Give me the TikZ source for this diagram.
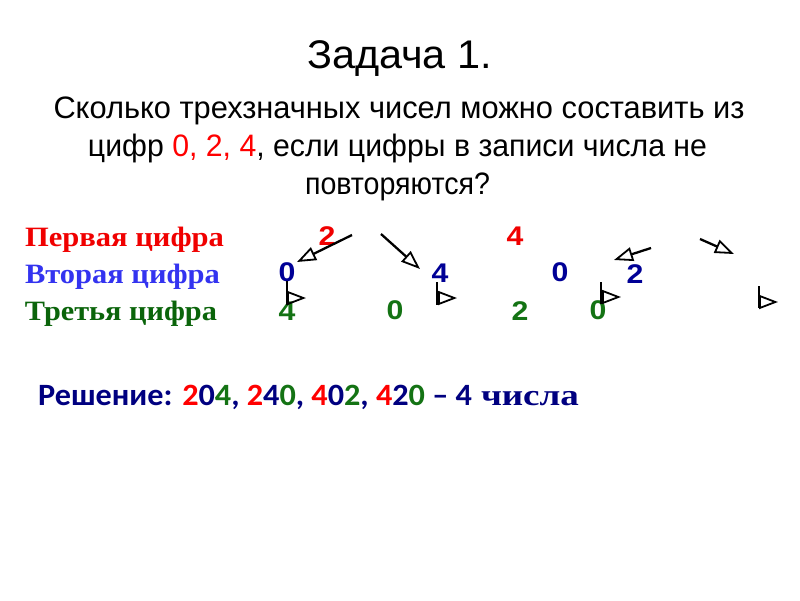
\documentclass[tikz,border=0pt]{standalone}
\usepackage{fontspec}
\setmainfont{Liberation Sans}
\newfontfamily\lserif{Liberation Serif}
\newfontfamily\carl{Carlito}
\usetikzlibrary{arrows.meta}
\definecolor{lblred}{RGB}{240,0,0}
\definecolor{lblblue}{RGB}{51,51,240}
\definecolor{lblgreen}{RGB}{10,100,10}
\definecolor{dignavy}{RGB}{0,0,150}
\definecolor{diggreen}{RGB}{20,115,20}
\definecolor{solnavy}{RGB}{0,0,128}
\tikzset{
  arr/.style={line width=2.3pt, -{Triangle[open, length=19pt, width=14pt, line width=1.8pt]}},
  stem/.style={line width=2.3pt},
  lbl/.style={anchor=base west, font=\lserif\bfseries\fontsize{28}{32}\selectfont},
  dig/.style={anchor=base, font=\bfseries\fontsize{27}{32}\selectfont},
  txt/.style={anchor=base, font=\fontsize{31}{38}\selectfont}
}
\newcommand{\digw}[1]{\scalebox{1.12}[1]{#1}}
\begin{document}
\begin{tikzpicture}[x=1pt,y=-1pt, every node/.style={inner sep=0pt, outer sep=0pt}]
\fill[white] (0,0) rectangle (800,600);
\useasboundingbox (0,0) rectangle (800,600);
% title and question
\node[anchor=base, font=\fontsize{40}{48}\selectfont] (title) at (399.5,68) {\resizebox{185pt}{\height}{Задача 1.}};
\node[txt] (q1) at (399,118) {\resizebox{691pt}{\height}{Сколько трехзначных чисел можно составить из}};
\node[txt] (q2) at (397.5,156) {\resizebox{619pt}{\height}{цифр \textcolor{red}{0, 2, 4}, если цифры в записи числа не}};
\node[txt] (q3) at (397.5,194) {\resizebox{185pt}{\height}{повторяются?}};
% row labels
\node[lbl, text=lblred] (l1) at (25,246) {\resizebox{199pt}{\height}{Первая цифра}};
\node[lbl, text=lblblue] (l2) at (25,283) {\resizebox{195pt}{\height}{Вторая цифра}};
\node[lbl, text=lblgreen] (l3) at (25,320) {\resizebox{192pt}{\height}{Третья цифра}};
% digits
\node[dig, text=lblred] (d12) at (327,245) {\digw{2}};
\node[dig, text=lblred] (d14) at (515,245) {\digw{4}};
\node[dig, text=dignavy] (d20a) at (287,281) {\digw{0}};
\node[dig, text=dignavy] (d24) at (440,282) {\digw{4}};
\node[dig, text=dignavy] (d20b) at (560,281) {\digw{0}};
\node[dig, text=dignavy] (d22) at (635,283) {\digw{2}};
\node[dig, text=diggreen] (d34) at (287,320) {\digw{4}};
\node[dig, text=diggreen] (d30a) at (395,319) {\digw{0}};
\node[dig, text=diggreen] (d32) at (520,320) {\digw{2}};
\node[dig, text=diggreen] (d30b) at (598,319) {\digw{0}};
% arrow points
\coordinate (a1s) at (352,235); \coordinate (a1e) at (297,262);
\coordinate (a2s) at (381,234); \coordinate (a2e) at (420,269);
\coordinate (a3t) at (287,281); \coordinate (a3b) at (287,305); \coordinate (a3m) at (287,298); \coordinate (a3e) at (306,298);
\coordinate (a4t) at (437,282); \coordinate (a4b) at (437,305); \coordinate (a4m) at (437,298); \coordinate (a4e) at (457,298);
\coordinate (a5s) at (651,248); \coordinate (a5e) at (614,260);
\coordinate (a6s) at (700,239); \coordinate (a6e) at (734,254);
\coordinate (a7t) at (601,282); \coordinate (a7b) at (601,304); \coordinate (a7m) at (601,297); \coordinate (a7e) at (621,297);
\coordinate (a8t) at (759,286); \coordinate (a8b) at (759,308); \coordinate (a8m) at (759,302); \coordinate (a8e) at (778,302);
\draw[arr] (a1s) -- (a1e);
\draw[arr] (a2s) -- (a2e);
\draw[stem] (a3t) -- (a3b); \draw[arr] (a3m) -- (a3e);
\draw[stem] (a4t) -- (a4b); \draw[arr] (a4m) -- (a4e);
\draw[arr] (a5s) -- (a5e);
\draw[arr] (a6s) -- (a6e);
\draw[stem] (a7t) -- (a7b); \draw[arr] (a7m) -- (a7e);
\draw[stem] (a8t) -- (a8b); \draw[arr] (a8m) -- (a8e);
% solution
\node[anchor=base west, text=solnavy, font=\carl\bfseries\fontsize{31}{36}\selectfont] (sol) at (38,405)
 {\resizebox{434pt}{\height}{Решение: \textcolor{red}{2}\textcolor{solnavy}{0}\textcolor{diggreen}{4}, \textcolor{red}{2}\textcolor{solnavy}{4}\textcolor{diggreen}{0}, \textcolor{red}{4}\textcolor{solnavy}{0}\textcolor{diggreen}{2}, \textcolor{red}{4}\textcolor{solnavy}{2}\textcolor{diggreen}{0} – 4}};
\node[anchor=base west, text=solnavy, font=\lserif\bfseries\fontsize{30}{36}\selectfont] (sol2) at (481,405)
 {\resizebox{98pt}{\height}{числа}};
\end{tikzpicture}
\end{document}
